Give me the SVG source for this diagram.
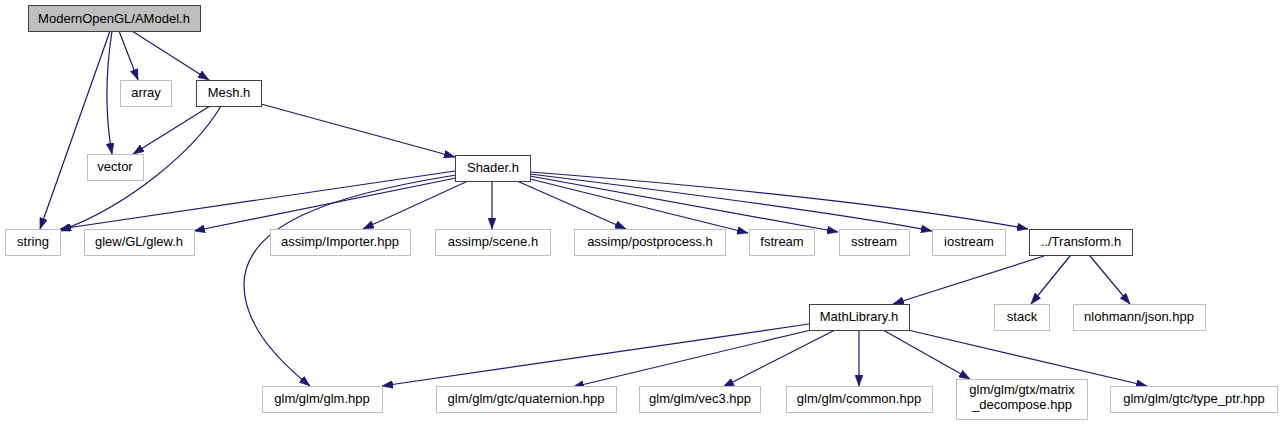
<svg xmlns="http://www.w3.org/2000/svg" width="1284" height="425" viewBox="0 0 1284 425">
<defs>
<style>
.n rect{fill:#fff;stroke:#404040;stroke-width:1}
.x rect{fill:#fff;stroke:#bfbfbf;stroke-width:1}
.r rect{fill:#bfbfbf;stroke:#404040;stroke-width:1}
text{font-family:"Liberation Sans",Arial,sans-serif;font-size:13px;fill:#000;text-anchor:middle}
.e path{fill:none;stroke:#191970;stroke-width:1.2;marker-end:url(#a)}
</style>
<marker id="a" markerUnits="userSpaceOnUse" markerWidth="11" markerHeight="8" refX="11" refY="4" orient="auto">
<path d="M0,0 L11,4 L0,8 z" fill="#191970" stroke="#191970" stroke-width="0.5"/>
</marker>
</defs>
<rect width="1284" height="425" fill="#fff"/>
<g id="edges" class="e">
<path d="M110,31 L40,229"/>
<path d="M112,31 C106,70 105,115 112,154"/>
<path d="M119,31 L138,80"/>
<path d="M132,31 L209,80"/>
<path d="M210,106 L133,154"/>
<path d="M221,106 C195,150 130,205 60,231"/>
<path d="M261,104 L455,157"/>
<path d="M455,171 L60,229"/>
<path d="M456,175 C330,195 244,225 244,285 C244,325 280,362 310,386"/>
<path d="M456,178 L194,231"/>
<path d="M468,181 L363,229"/>
<path d="M492,181 L492,229"/>
<path d="M517,181 L626,229"/>
<path d="M530,179 L748,233"/>
<path d="M530,176 L838,232"/>
<path d="M530,174 C700,195 850,215 932,231"/>
<path d="M530,172 C700,185 900,205 1028,229"/>
<path d="M1044,256 L893,304"/>
<path d="M1070,256 L1031,304"/>
<path d="M1090,256 L1130,304"/>
<path d="M809,324 L382,386"/>
<path d="M811,330 L573,387"/>
<path d="M835,330 L723,387"/>
<path d="M859,330 L859,386"/>
<path d="M883,330 L970,379"/>
<path d="M908,330 L1147,386"/>
</g>
<g id="AModel" class="r"><rect x="28.5" y="5.5" width="172" height="26"/><text x="114" y="23">ModernOpenGL/AModel.h</text></g>
<g id="array" class="x"><rect x="120.5" y="80.5" width="51" height="26"/><text x="146" y="97">array</text></g>
<g id="Mesh" class="n"><rect x="196.5" y="80.5" width="65" height="26"/><text x="229" y="97">Mesh.h</text></g>
<g id="vector" class="x"><rect x="87.5" y="154.5" width="56" height="26"/><text x="115" y="171">vector</text></g>
<g id="Shader" class="n"><rect x="455.5" y="155.5" width="75" height="26"/><text x="493" y="172">Shader.h</text></g>
<g id="string" class="x"><rect x="5.5" y="229.5" width="55" height="26"/><text x="33" y="246">string</text></g>
<g id="glew" class="x"><rect x="84.5" y="229.5" width="110" height="26"/><text x="139" y="246">glew/GL/glew.h</text></g>
<g id="Importer" class="x"><rect x="270.5" y="229.5" width="140" height="26"/><text x="340" y="246">assimp/Importer.hpp</text></g>
<g id="scene" class="x"><rect x="435.5" y="229.5" width="115" height="26"/><text x="493" y="246">assimp/scene.h</text></g>
<g id="postprocess" class="x"><rect x="574.5" y="229.5" width="151" height="26"/><text x="650" y="246">assimp/postprocess.h</text></g>
<g id="fstream" class="x"><rect x="749.5" y="229.5" width="65" height="26"/><text x="782" y="246">fstream</text></g>
<g id="sstream" class="x"><rect x="839.5" y="229.5" width="70" height="26"/><text x="874" y="246">sstream</text></g>
<g id="iostream" class="x"><rect x="932.5" y="229.5" width="73" height="26"/><text x="969" y="246">iostream</text></g>
<g id="Transform" class="n"><rect x="1029.5" y="229.5" width="103" height="26"/><text x="1081" y="246">../Transform.h</text></g>
<g id="MathLibrary" class="n"><rect x="809.5" y="304.5" width="100" height="26"/><text x="859" y="321">MathLibrary.h</text></g>
<g id="stack" class="x"><rect x="994.5" y="304.5" width="55" height="26"/><text x="1022" y="321">stack</text></g>
<g id="json" class="x"><rect x="1073.5" y="304.5" width="132" height="26"/><text x="1139" y="321">nlohmann/json.hpp</text></g>
<g id="glm" class="x"><rect x="262.5" y="386.5" width="120" height="26"/><text x="322" y="403">glm/glm/glm.hpp</text></g>
<g id="quaternion" class="x"><rect x="436.5" y="386.5" width="180" height="26"/><text x="526" y="403">glm/glm/gtc/quaternion.hpp</text></g>
<g id="vec3" class="x"><rect x="639.5" y="386.5" width="121" height="26"/><text x="700" y="403">glm/glm/vec3.hpp</text></g>
<g id="common" class="x"><rect x="786.5" y="386.5" width="146" height="26"/><text x="859" y="403">glm/glm/common.hpp</text></g>
<g id="matrix_decompose" class="x"><rect x="956.5" y="379.5" width="131" height="40"/><text x="1022" y="394">glm/glm/gtx/matrix</text><text x="1022" y="409">_decompose.hpp</text></g>
<g id="type_ptr" class="x"><rect x="1110.5" y="386.5" width="167" height="26"/><text x="1194" y="403">glm/glm/gtc/type_ptr.hpp</text></g>
</svg>
